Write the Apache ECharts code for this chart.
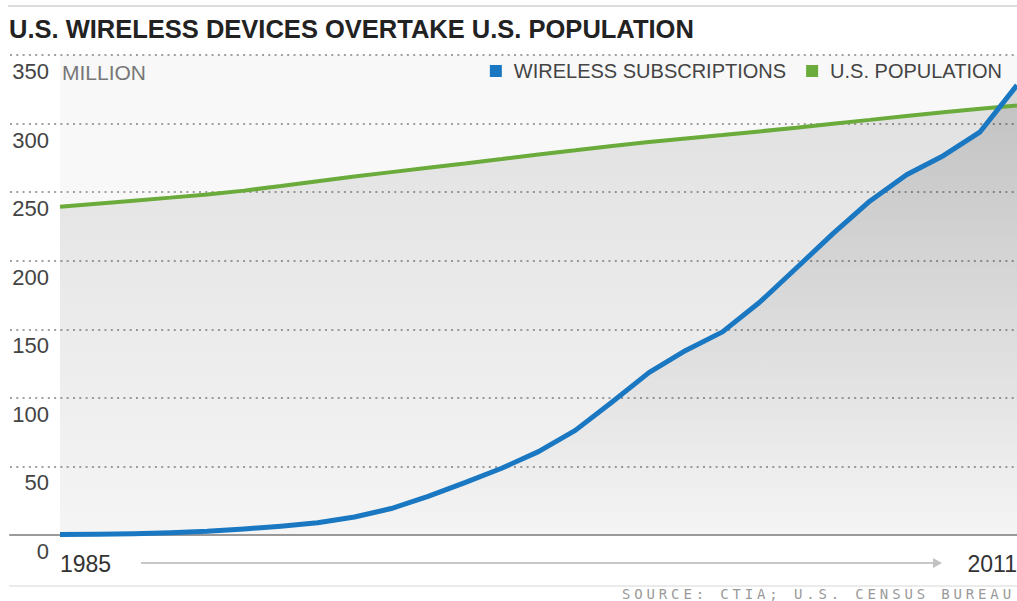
<!DOCTYPE html>
<html>
<head>
<meta charset="utf-8">
<script src="https://cdn.jsdelivr.net/npm/echarts@6/dist/echarts.min.js"></script>
<style>
html,body{margin:0;padding:0;background:#fff;}
#c{width:1017px;height:601px;}
</style>
</head>
<body>
<div id="c"></div>
<script>
// ---- data ----
const titleText = 'U.S. WIRELESS DEVICES OVERTAKE U.S. POPULATION';
const unitText = 'MILLION';
const sourceText = 'SOURCE: CTIA; U.S. CENSUS BUREAU';
const seriesNames = ['WIRELESS SUBSCRIPTIONS', 'U.S. POPULATION'];
const years = [1985,1986,1987,1988,1989,1990,1991,1992,1993,1994,1995,1996,1997,1998,1999,2000,2001,2002,2003,2004,2005,2006,2007,2008,2009,2010,2011];
const wireless = [0.3,0.5,0.9,1.6,2.7,4.4,6.4,8.9,13.1,19.3,28.2,38.2,48.7,60.8,76.3,97.0,118.4,134.6,148.1,169.5,194.5,219.7,243.4,262.7,276.6,294.0,328.0];
const population = [239.4,241.6,243.8,246.0,248.3,251.1,254.5,258.0,261.4,264.6,267.8,270.9,274.1,277.4,280.5,283.7,286.5,289.1,291.6,294.3,297.0,299.9,302.7,305.6,308.3,310.8,313.1];
const yTicks = {min:0, max:350, step:50};
const xTickValues = [1985, 2011];

const BLUE = '#1a78c2';
const GREEN = '#6aab3b';
const FONT = 'Liberation Sans';

const chart = echarts.init(document.getElementById('c'), null, {renderer:'svg'});

function grad(top, bottom){
  return {type:'linear', x:0, y:0, x2:0, y2:1,
    colorStops:[{offset:0, color:'rgba(0,0,0,'+top+')'},{offset:1, color:'rgba(0,0,0,'+bottom+')'}]};
}

const option = {
  animation:false,
  title:{
    text:titleText, left:9, top:16, padding:0,
    textStyle:{fontFamily:FONT, fontSize:25.5, fontWeight:'bold', color:'#222'}
  },
  legend:{
    data:seriesNames, right:15, top:61, padding:0,
    icon:'rect', itemWidth:12, itemHeight:12, itemGap:20,
    textStyle:{fontFamily:FONT, fontSize:20, color:'#444', padding:[0,0,0,7]}
  },
  grid:[
    {left:10, right:0, top:55, bottom:66, show:false, outerBoundsMode:'none'},
    {left:60, right:0, top:55, bottom:66, show:true, backgroundColor:'#f8f8f8', borderWidth:0, outerBoundsMode:'none'}
  ],
  xAxis:[
    {gridIndex:0, type:'value', min:0, max:1,
     axisLine:{show:true, onZero:false, lineStyle:{color:'#9a9a9a', width:2}},
     axisTick:{show:false}, axisLabel:{show:false}, splitLine:{show:false}},
    {gridIndex:1, type:'value', min:xTickValues[0], max:xTickValues[1],
     axisLine:{show:false}, axisTick:{show:false}, splitLine:{show:false},
     axisLabel:{customValues:xTickValues, margin:17, fontFamily:FONT, fontSize:23, color:'#333',
       alignMinLabel:'left', alignMaxLabel:'right', formatter:function(v){return String(v);}}}
  ],
  yAxis:[
    {gridIndex:0, type:'value', min:yTicks.min, max:yTicks.max, interval:yTicks.step,
     axisLine:{show:false}, axisTick:{show:false},
     splitLine:{show:true, lineStyle:{color:'#a0a0a0', width:2, type:[2,4.3]}},
     axisLabel:{inside:true, align:'right', margin:39, verticalAlign:'top', lineHeight:33,
       fontFamily:FONT, fontSize:22, color:'#444'}},
    {gridIndex:1, type:'value', min:yTicks.min, max:yTicks.max, show:false}
  ],
  series:[
    {name:seriesNames[1], type:'line', xAxisIndex:1, yAxisIndex:1,
     data:years.map(function(y,i){return [y, population[i]];}),
     symbol:'none', showSymbol:false, smooth:false,
     lineStyle:{color:GREEN, width:4}, itemStyle:{color:GREEN},
     areaStyle:{color:grad(0.13, 0.02)}},
    {name:seriesNames[0], type:'line', xAxisIndex:1, yAxisIndex:1,
     data:years.map(function(y,i){return [y, wireless[i]];}),
     symbol:'none', showSymbol:false, smooth:false,
     lineStyle:{color:BLUE, width:5, join:'round'}, itemStyle:{color:BLUE},
     areaStyle:{color:grad(0.2, 0.0)}}
  ],
  graphic:[
    {type:'line', silent:true, shape:{x1:8, y1:6, x2:1017, y2:6}, style:{stroke:'#dcdcdc', lineWidth:2}},
    {type:'line', silent:true, shape:{x1:9, y1:586, x2:1017, y2:586}, style:{stroke:'#ebebeb', lineWidth:2}},
    {type:'line', silent:true, shape:{x1:141, y1:563, x2:934, y2:563}, style:{stroke:'#c8c8c8', lineWidth:2}},
    {type:'polygon', silent:true, shape:{points:[[933,558],[942,563],[933,568]]}, style:{fill:'#c2c2c2'}},
    {type:'text', silent:true, style:{text:unitText, x:62, y:72, verticalAlign:'middle',
      fontFamily:FONT, fontSize:21, fill:'#777'}},
    {type:'text', silent:true, style:{text:sourceText, x:622, y:594, align:'left', verticalAlign:'middle',
      fontFamily:'DejaVu Sans Mono', fontSize:14, fill:'#9a9a9a'}}
  ]
};
chart.setOption(option);

// widen the letter spacing of the source line like the original
(function(){
  const texts = chart.getDom().querySelectorAll('text');
  texts.forEach(function(t){
    if (t.textContent === sourceText) {
      t.setAttribute('letter-spacing', '3.85');
    }
  });
})();
</script>
</body>
</html>
